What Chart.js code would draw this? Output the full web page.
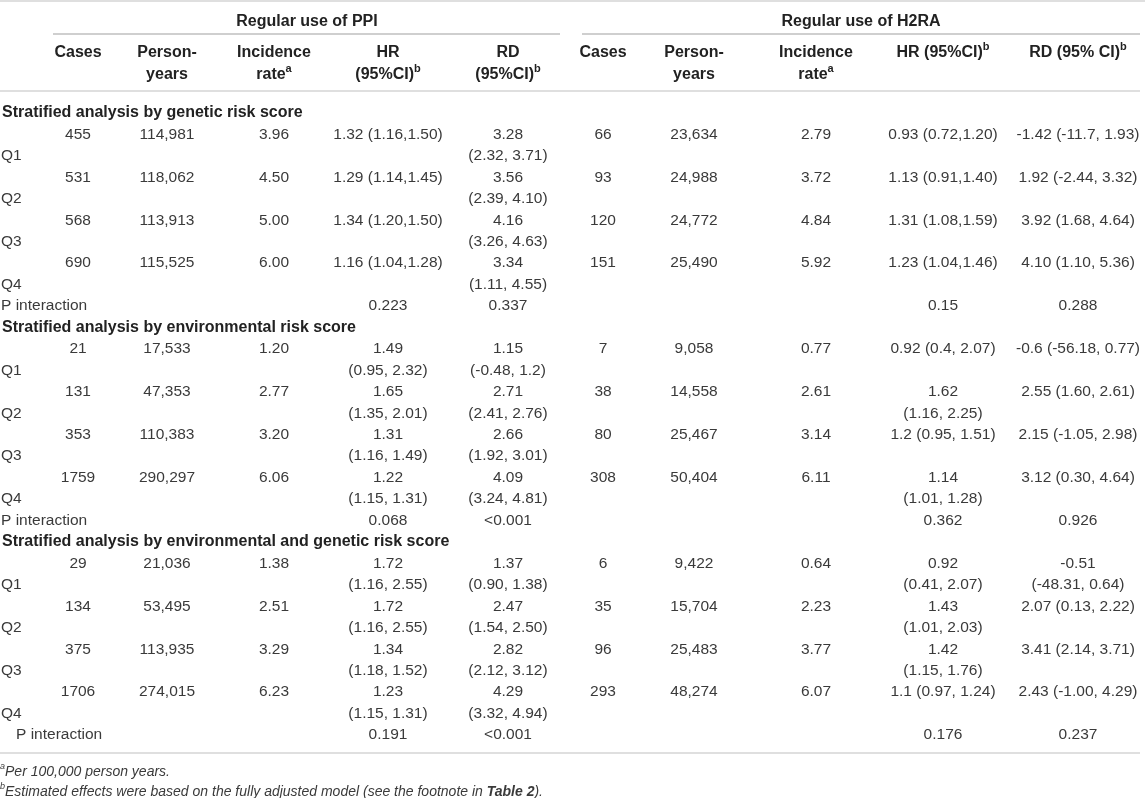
<!DOCTYPE html>
<html>
<head>
<meta charset="utf-8">
<script src="https://cdn.jsdelivr.net/npm/chart.js@4.4.1/dist/chart.umd.min.js"></script>
<style>
	html, body { margin: 0; padding: 0; background: #fff; }
	#wrap { width: 1145px; height: 798px; position: relative; }
</style>
</head>
<body>
<div id="wrap"><canvas id="tabel-risk"></canvas></div>
<script>
const groupTitles = ['Regular use of PPI', 'Regular use of H2RA'];
const ppiHeaders = ['Cases', 'Person-\nyears', 'Incidence\nrate^a', 'HR\n(95%CI)^b', 'RD\n(95%CI)^b'];
const h2raHeaders = ['Cases', 'Person-\nyears', 'Incidence\nrate^a', 'HR (95%CI)^b', 'RD (95% CI)^b'];
const strata = [
	'Stratified analysis by genetic risk score',
	'Stratified analysis by environmental risk score',
	'Stratified analysis by environmental and genetic risk score'
];
const quartiles = ['Q1', 'Q2', 'Q3', 'Q4'];
const pLabel = 'P interaction';

const ppiCases = [[455, 531, 568, 690], [21, 131, 353, 1759], [29, 134, 375, 1706]];
const ppiPersonYears = [[114981, 118062, 113913, 115525], [17533, 47353, 110383, 290297], [21036, 53495, 113935, 274015]];
const ppiIncidence = [[3.96, 4.50, 5.00, 6.00], [1.20, 2.77, 3.20, 6.06], [1.38, 2.51, 3.29, 6.23]];
const ppiHR = [
	['1.32 (1.16,1.50)', '1.29 (1.14,1.45)', '1.34 (1.20,1.50)', '1.16 (1.04,1.28)'],
	['1.49\n(0.95, 2.32)', '1.65\n(1.35, 2.01)', '1.31\n(1.16, 1.49)', '1.22\n(1.15, 1.31)'],
	['1.72\n(1.16, 2.55)', '1.72\n(1.16, 2.55)', '1.34\n(1.18, 1.52)', '1.23\n(1.15, 1.31)']
];
const ppiRD = [
	['3.28\n(2.32, 3.71)', '3.56\n(2.39, 4.10)', '4.16\n(3.26, 4.63)', '3.34\n(1.11, 4.55)'],
	['1.15\n(-0.48, 1.2)', '2.71\n(2.41, 2.76)', '2.66\n(1.92, 3.01)', '4.09\n(3.24, 4.81)'],
	['1.37\n(0.90, 1.38)', '2.47\n(1.54, 2.50)', '2.82\n(2.12, 3.12)', '4.29\n(3.32, 4.94)']
];
const ppiPHR = ['0.223', '0.068', '0.191'];
const ppiPRD = ['0.337', '<0.001', '<0.001'];

const h2raCases = [[66, 93, 120, 151], [7, 38, 80, 308], [6, 35, 96, 293]];
const h2raPersonYears = [[23634, 24988, 24772, 25490], [9058, 14558, 25467, 50404], [9422, 15704, 25483, 48274]];
const h2raIncidence = [[2.79, 3.72, 4.84, 5.92], [0.77, 2.61, 3.14, 6.11], [0.64, 2.23, 3.77, 6.07]];
const h2raHR = [
	['0.93 (0.72,1.20)', '1.13 (0.91,1.40)', '1.31 (1.08,1.59)', '1.23 (1.04,1.46)'],
	['0.92 (0.4, 2.07)', '1.62\n(1.16, 2.25)', '1.2 (0.95, 1.51)', '1.14\n(1.01, 1.28)'],
	['0.92\n(0.41, 2.07)', '1.43\n(1.01, 2.03)', '1.42\n(1.15, 1.76)', '1.1 (0.97, 1.24)']
];
const h2raRD = [
	['-1.42 (-11.7, 1.93)', '1.92 (-2.44, 3.32)', '3.92 (1.68, 4.64)', '4.10 (1.10, 5.36)'],
	['-0.6 (-56.18, 0.77)', '2.55 (1.60, 2.61)', '2.15 (-1.05, 2.98)', '3.12 (0.30, 4.64)'],
	['-0.51\n(-48.31, 0.64)', '2.07 (0.13, 2.22)', '3.41 (2.14, 3.71)', '2.43 (-1.00, 4.29)']
];
const h2raPHR = ['0.15', '0.362', '0.176'];
const h2raPRD = ['0.288', '0.926', '0.237'];

const footnotes = [
	'^aPer 100,000 person years.',
	'^bEstimated effects were based on the fully adjusted model (see the footnote in *Table 2*).'
];

// ---- layout ----
const fontFamily = '"Liberation Sans", Arial, Helvetica, sans-serif';
const colX = [78, 167, 274, 388, 508, 603, 694, 816, 943, 1078];
const groupX = [307, 861];
// y scale is in "row" units: row 0 = first section title, 1 row = 21.45px
const rowPx = 21.45, row0Px = 111;
const pxToRow = (p) => (p - row0Px) / rowPx;
const textNudge = 2; // canvas 'middle' sits a bit high for digits

function fmtThousand(n) {
	return String(n).replace(/\B(?=(\d{3})+(?!\d))/g, ',');
}

const bodyPts = [], labelPts = [], sectionPts = [], headPts = [], footPts = [];

function addCell(list, x, row, text, step) {
	String(text).split('\n').forEach((line, k) => {
		list.push({ x: x, y: row + k * (step || 1), text: line });
	});
}

// headers
groupTitles.forEach((t, g) => headPts.push({ x: groupX[g], y: pxToRow(20), text: t }));
ppiHeaders.concat(h2raHeaders).forEach((h, c) => addCell(headPts, colX[c], pxToRow(51), h, 22 / rowPx));

// body
strata.forEach((title, s) => {
	const base = s * 10;
	sectionPts.push({ x: 2, y: base, text: title });
	quartiles.forEach((q, i) => {
		const r = base + 1 + i * 2;
		labelPts.push({ x: 1, y: r + 1, text: q });
		addCell(bodyPts, colX[0], r, ppiCases[s][i]);
		addCell(bodyPts, colX[1], r, fmtThousand(ppiPersonYears[s][i]));
		addCell(bodyPts, colX[2], r, ppiIncidence[s][i].toFixed(2));
		addCell(bodyPts, colX[3], r, ppiHR[s][i]);
		addCell(bodyPts, colX[4], r, ppiRD[s][i]);
		addCell(bodyPts, colX[5], r, h2raCases[s][i]);
		addCell(bodyPts, colX[6], r, fmtThousand(h2raPersonYears[s][i]));
		addCell(bodyPts, colX[7], r, h2raIncidence[s][i].toFixed(2));
		addCell(bodyPts, colX[8], r, h2raHR[s][i]);
		addCell(bodyPts, colX[9], r, h2raRD[s][i]);
	});
	const pr = base + 9;
	labelPts.push({ x: s === 2 ? 16 : 1, y: pr, text: pLabel });
	addCell(bodyPts, colX[3], pr, ppiPHR[s]);
	addCell(bodyPts, colX[4], pr, ppiPRD[s]);
	addCell(bodyPts, colX[8], pr, h2raPHR[s]);
	addCell(bodyPts, colX[9], pr, h2raPRD[s]);
});

footnotes.forEach((f, i) => footPts.push({ x: 0, y: pxToRow(770 + i * 20), text: f }));

// rules
function rule(x1, x2, yPx, color, w) {
	return {
		type: 'scatter', showLine: true, pointRadius: 0, borderColor: color, borderWidth: w,
		data: [{ x: x1, y: pxToRow(yPx) }, { x: x2, y: pxToRow(yPx) }]
	};
}

function textSet(data, style) {
	return { type: 'scatter', pointRadius: 0, data: data, textStyle: style };
}

// ---- rich text (supports ^x superscript and *bold*) ----
function parseRich(str) {
	const segs = [];
	let bold = false, buf = '';
	for (let i = 0; i < str.length; i++) {
		const ch = str[i];
		if (ch === '^') {
			if (buf) segs.push({ t: buf, bold: bold });
			buf = '';
			segs.push({ t: str[i + 1], sup: true, bold: bold });
			i++;
		} else if (ch === '*') {
			if (buf) segs.push({ t: buf, bold: bold });
			buf = '';
			bold = !bold;
		} else {
			buf += ch;
		}
	}
	if (buf) segs.push({ t: buf, bold: bold });
	return segs;
}

function fontStr(st, bold, sup) {
	const size = sup ? Math.round(st.size * 0.66) : st.size;
	return (st.italic ? 'italic ' : '') + (bold || st.bold ? 'bold ' : '') + size + 'px ' + fontFamily;
}

function drawRich(ctx, text, x, y, st) {
	const segs = parseRich(String(text));
	y += textNudge;
	ctx.save();
	ctx.textBaseline = 'middle';
	ctx.textAlign = 'left';
	ctx.fillStyle = st.color;
	let total = 0;
	segs.forEach(sg => {
		ctx.font = fontStr(st, sg.bold, sg.sup);
		sg.w = ctx.measureText(sg.t).width;
		total += sg.w;
	});
	let cx = st.align === 'center' ? x - total / 2 : x;
	segs.forEach(sg => {
		ctx.font = fontStr(st, sg.bold, sg.sup);
		ctx.fillText(sg.t, cx, sg.sup ? y - st.size * 0.4 : y);
		cx += sg.w;
	});
	ctx.restore();
}

const tabelText = {
	id: 'tabelText',
	afterDatasetsDraw(chart) {
		const ctx = chart.ctx;
		chart.data.datasets.forEach((ds, di) => {
			if (!ds.textStyle) return;
			const meta = chart.getDatasetMeta(di);
			meta.data.forEach((el, i) => drawRich(ctx, ds.data[i].text, el.x, el.y, ds.textStyle));
		});
	}
};

new Chart(document.getElementById('tabel-risk'), {
	type: 'scatter',
	data: {
		datasets: [
			rule(0, 1145, 1, '#d4d4d4', 1.5),
			rule(53, 560, 34, '#a0a0a0', 1.2),
			rule(582, 1140, 34, '#a0a0a0', 1.2),
			rule(0, 1140, 91, '#d4d4d4', 1.5),
			rule(0, 1140, 753, '#d4d4d4', 1.5),
			textSet(headPts, { size: 16, bold: true, align: 'center', color: '#222' }),
			textSet(sectionPts, { size: 16, bold: true, align: 'left', color: '#222' }),
			textSet(labelPts, { size: 15.5, align: 'left', color: '#3a3a3a' }),
			textSet(bodyPts, { size: 15.5, align: 'center', color: '#3a3a3a' }),
			textSet(footPts, { size: 14, italic: true, align: 'left', color: '#3a3a3a' })
		]
	},
	options: {
		responsive: true,
		maintainAspectRatio: false,
		animation: false,
		events: [],
		layout: { padding: 0 },
		plugins: { legend: { display: false }, tooltip: { enabled: false }, title: { display: false } },
		scales: {
			x: { type: 'linear', min: 0, max: 1145, display: false },
			y: { type: 'linear', min: pxToRow(0), max: pxToRow(798), reverse: true, display: false }
		}
	},
	plugins: [tabelText]
});
</script>
</body>
</html>
